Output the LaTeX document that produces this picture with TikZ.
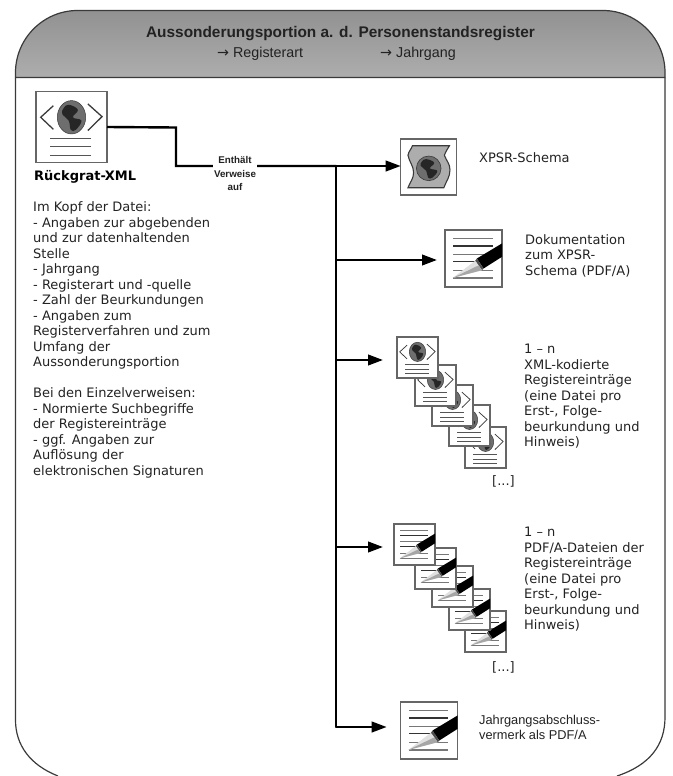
\documentclass[tikz,border=0pt]{standalone}
\usepackage{fontspec}
\setmainfont{Liberation Sans}
\newfontfamily\dvfont{DejaVu Sans}
\usetikzlibrary{arrows.meta}
\definecolor{framec}{HTML}{3A3A3A}
\definecolor{boxc}{HTML}{666666}
\definecolor{txtc}{HTML}{222222}
\definecolor{linec}{HTML}{555555}
\tikzset{
  iconbox/.style={draw=boxc,fill=white,line width=1.1pt,inner sep=0pt,outer sep=0pt,anchor=north west},
  conn/.style={draw=black,line width=2.4pt},
  connarrow/.style={conn,-{Triangle[length=15pt,width=10.5pt]}},
  dvtext/.style={font=\dvfont\fontsize{13}{15.5}\selectfont,text=txtc,align=left,anchor=north west,inner sep=0pt},
  artext/.style={font=\fontsize{12.8}{15.5}\selectfont,text=txtc,align=left,anchor=north west,inner sep=0pt},
  subtext/.style={font=\fontsize{14.3}{16}\selectfont,text=txtc,inner sep=0pt,anchor=west}
}
\newcommand{\xmlicon}[4]{%
  \node[iconbox,minimum size=#4pt] (#1) at (#2,#3) {};
  \begin{scope}[shift={(#2,#3)},x=#4pt,y=-#4pt]
    \draw[framec,line width=#4*0.018pt] (0.245,0.2)--(0.066,0.363)--(0.245,0.533);
    \draw[framec,line width=#4*0.018pt] (0.73,0.175)--(0.93,0.354)--(0.73,0.55);
    \begin{scope}[shift={(0.5,0.363)},x=#4*0.2pt,y=-#4*0.235pt]
      \filldraw[fill=linec!85!white,draw=framec,line width=0.5pt] (0,0) circle [x radius=1,y radius=1];
      \fill[black!85] plot[smooth cycle,tension=0.7] coordinates {(-0.2,-0.75) (0.45,-0.45) (0.1,0) (0.7,0.2) (0.3,0.75) (-0.05,0.75) (-0.2,0.2) (-0.65,-0.2) (-0.55,-0.55)};
    \end{scope}
    \draw[linec,line width=#4*0.016pt] (0.2,0.66)--(0.77,0.66) (0.2,0.78)--(0.77,0.78) (0.2,0.896)--(0.77,0.896);
  \end{scope}}
\newcommand{\docicon}[4]{%
  \node[iconbox,minimum size=#4pt] (#1) at (#2,#3) {};
  \begin{scope}[shift={(#2,#3)},x=#4pt,y=-#4pt]
    \draw[linec!80!white,line width=#4*0.022pt] (0.147,0.147)--(0.835,0.147) (0.147,0.424)--(0.835,0.424) (0.147,0.706)--(0.835,0.706) (0.147,0.841)--(0.835,0.841);
    \draw[black!80,line width=#4*0.022pt] (0.147,0.282)--(0.835,0.282) (0.147,0.559)--(0.835,0.559);
    \fill[black] (1,0.235)--(1,0.47)--(0.676,0.676)--(0.559,0.5)--cycle;
    \fill[black!70] (0.559,0.5)--(0.676,0.676)--(0.647,0.706)--(0.53,0.54)--cycle;
    \fill[black!12] (0.53,0.54)--(0.647,0.706)--(0.135,0.841)--cycle;
    \fill[black!35] (0.59,0.62)--(0.647,0.706)--(0.135,0.841)--cycle;
  \end{scope}}
\begin{document}
\begin{tikzpicture}[x=1pt,y=-1pt]
\useasboundingbox (0,0) rectangle (672,776);
% header and frame
\shade[top color=black!43,bottom color=black!32]
  (15.5,77.5) -- (15.5,72.5) .. controls (15.5,38.5) and (43.5,10.5) .. (77.5,10.5)
  -- (603,10.5) .. controls (637,10.5) and (665,38.5) .. (665,72.5) -- (665,77.5) -- cycle;
\draw[framec,line width=1.2pt] (15.5,77.5) -- (15.5,72.5) .. controls (15.5,38.5) and (43.5,10.5) .. (77.5,10.5)
  -- (603,10.5) .. controls (637,10.5) and (665,38.5) .. (665,72.5) -- (665,77.5) -- cycle;
\draw[framec,line width=1.2pt] (15.5,77.5) -- (15.5,720) .. controls (15.5,745) and (30,765) .. (58,776);
\draw[framec,line width=1.2pt] (665,77.5) -- (665,717) .. controls (665,745) and (650,765) .. (617,776);
\node[font=\bfseries\fontsize{15.4}{16}\selectfont,text=txtc,inner sep=0pt] (title) at (340.5,34) {Aussonderungsportion a. d. Personenstandsregister};
\node[subtext] (sub1) at (217,53.5) {{\dvfont →} Registerart};
\node[subtext] (sub2) at (380,53.5) {{\dvfont →} Jahrgang};
% icons
\xmlicon{xml}{36}{91.5}{71}
\docicon{doca}{445}{230}{57}
\node[iconbox,minimum size=56pt] (schema) at (400.7,139) {};
\begin{scope}[shift={(400.7,139)},x=56pt,y=-56pt]
  \filldraw[fill=black!32,draw=framec,line width=1.1pt] (0.21,0.12) to[out=250,in=80] (0.13,0.29) to[out=-80,in=90] (0.23,0.6) to[out=-90,in=70] (0.13,0.87) -- (0.77,0.87) to[out=70,in=-90] (0.88,0.55) to[out=90,in=-70] (0.78,0.29) to[out=70,in=-120] (0.87,0.12) -- cycle;
  \begin{scope}[shift={(0.5,0.524)},x=56*0.22pt,y=-56*0.22pt]
    \filldraw[fill=linec!85!white,draw=framec,line width=0.6pt] (0,0) circle [x radius=1,y radius=1];
    \fill[black!85] plot[smooth cycle,tension=0.7] coordinates {(-0.2,-0.75) (0.45,-0.45) (0.1,0) (0.7,0.2) (0.3,0.75) (-0.05,0.75) (-0.2,0.2) (-0.65,-0.2) (-0.55,-0.55)};
  \end{scope}
\end{scope}
\xmlicon{xmle}{465}{427}{41}
\xmlicon{xmld}{449}{405}{41}
\xmlicon{xmlc}{432}{385}{41}
\xmlicon{xmlb}{415}{365}{41}
\xmlicon{xmla}{397}{337}{41}
\docicon{pdfe}{465}{611}{41}
\docicon{pdfd}{449}{589}{41}
\docicon{pdfc}{432}{566}{41}
\docicon{pdfb}{415}{548}{41}
\docicon{pdfa}{394}{524}{41}
\docicon{docb}{400.7}{702}{57}
% connectors
\coordinate (t1) at (176,127.5);
\coordinate (t2) at (176,166);
\coordinate (j1) at (336,166);
\coordinate (j2) at (336,260);
\coordinate (j3) at (336,360);
\coordinate (j4) at (336,547);
\coordinate (j5) at (336,727);
\draw[conn] (xml.east) -- (t1) -- (t2) -- (j1);
\draw[conn,line cap=round] (j1) -- (j5);
\draw[connarrow] (j1) -- (j1-|schema.west);
\draw[connarrow,shorten >=8pt] (j2) -- (j2-|doca.west);
\draw[connarrow,shorten >=14pt] (j3) -- (j3-|xmla.west);
\draw[connarrow,shorten >=11pt] (j4) -- (j4-|pdfa.west);
\draw[connarrow,shorten >=14pt] (j5) -- (j5-|docb.west);
\node[fill=white,inner sep=1.5pt,align=center,font=\bfseries\fontsize{9.8}{13.5}\selectfont,text=txtc] (lbl) at (235,173.5) {Enthält\\Verweise\\auf};
% texts
\node[font=\dvfont\bfseries\fontsize{13}{15.5}\selectfont,text=black,anchor=west,inner sep=0pt] (xmlt) at (34,177) {Rückgrat-XML};
\node[dvtext] (desc) at (33,201.5) {Im Kopf der Datei:\\- Angaben zur abgebenden\\und zur datenhaltenden\\Stelle\\- Jahrgang\\- Registerart und -quelle\\- Zahl der Beurkundungen\\- Angaben zum\\Registerverfahren und zum\\Umfang der\\Aussonderungsportion\\[15.5pt]Bei den Einzelverweisen:\\- Normierte Suchbegriffe\\der Registereinträge\\- ggf. Angaben zur\\Auflösung der\\elektronischen Signaturen};
\node[dvtext] (schemat) at (479,152) {XPSR-Schema};
\node[dvtext] (docat) at (525,234) {Dokumentation\\zum XPSR-\\Schema (PDF/A)};
\node[dvtext] (xmlt2) at (524,344) {1 – n\\XML-kodierte\\Registereinträge\\(eine Datei pro\\Erst-, Folge-\\beurkundung und\\Hinweis)};
\node[dvtext] (dotsa) at (492,475) {[...]};
\node[dvtext] (pdft) at (524,527) {1 – n\\PDF/A-Dateien der\\Registereinträge\\(eine Datei pro\\Erst-, Folge-\\beurkundung und\\Hinweis)};
\node[dvtext] (dotsb) at (492,661) {[...]};
\node[artext] (docbt) at (479,715) {Jahrgangsabschluss-\\vermerk als PDF/A};
\end{tikzpicture}
\end{document}
